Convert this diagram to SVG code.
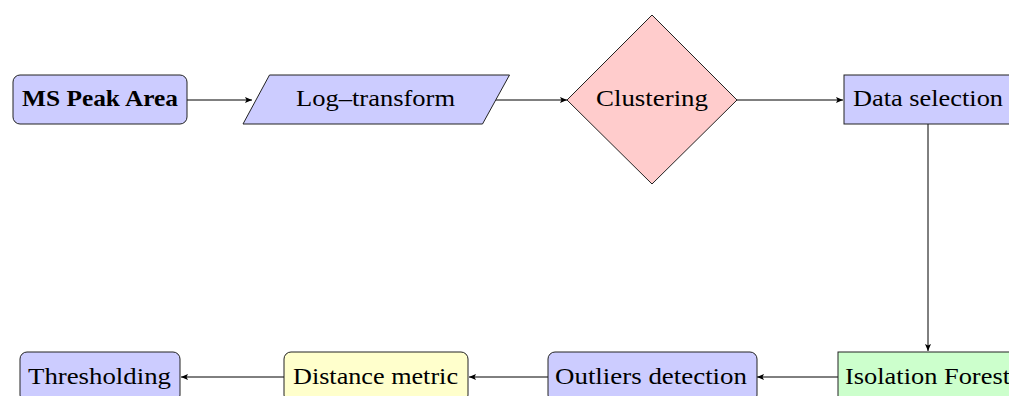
<svg xmlns="http://www.w3.org/2000/svg" width="1009" height="396" viewBox="0 0 1009 396">
<defs>
<marker id="ah" markerWidth="8" markerHeight="6" refX="7" refY="3" orient="auto" markerUnits="userSpaceOnUse">
<path d="M0,0 L7,3 L0,6 L1.5,3 Z" fill="#000"/>
</marker>
<style>
.n{stroke:#222;stroke-width:1}
.b{fill:#ccccff}
.r{fill:#ffcccc}
.y{fill:#ffffcc}
.g{fill:#ccffcc}
.t{font-family:"Liberation Serif","DejaVu Serif",serif;font-size:24px;fill:#000}
.bold{font-weight:bold}
.c{stroke:#000;stroke-width:1;fill:none;marker-end:url(#ah)}
</style>
</defs>
<rect width="1009" height="396" fill="#fff"/>
<g id="connectors">
<line class="c" x1="187" y1="100" x2="252" y2="100"/>
<line class="c" x1="496" y1="100" x2="567" y2="100"/>
<line class="c" x1="737" y1="100" x2="843" y2="100"/>
<line class="c" x1="928" y1="124" x2="928" y2="351"/>
<line class="c" x1="838" y1="377" x2="757" y2="377"/>
<line class="c" x1="548" y1="377" x2="469" y2="377"/>
<line class="c" x1="284" y1="377" x2="181" y2="377"/>
</g>
<g id="ms-peak-area">
<rect class="n b" x="13" y="75" width="174" height="49" rx="7"/>
<text class="t bold" x="22" y="106" textLength="156" lengthAdjust="spacingAndGlyphs">MS Peak Area</text>
</g>
<g id="log-transform">
<polygon class="n b" points="243,124 269.5,75 509.5,75 482.5,124"/>
<text class="t" x="296" y="106" textLength="159" lengthAdjust="spacingAndGlyphs">Log–transform</text>
</g>
<g id="clustering">
<polygon class="n r" points="652,15 737,100 652,184 567,100"/>
<text class="t" x="596" y="106" textLength="112" lengthAdjust="spacingAndGlyphs">Clustering</text>
</g>
<g id="data-selection">
<rect class="n b" x="844" y="75" width="175" height="49"/>
<text class="t" x="853" y="106" textLength="150" lengthAdjust="spacingAndGlyphs">Data selection</text>
</g>
<g id="isolation-forest">
<rect class="n g" x="838" y="352" width="185" height="50"/>
<text class="t" x="845" y="384" textLength="165" lengthAdjust="spacingAndGlyphs">Isolation Forest</text>
</g>
<g id="outliers-detection">
<rect class="n b" x="548" y="352" width="209" height="50" rx="7"/>
<text class="t" x="555" y="384" textLength="192" lengthAdjust="spacingAndGlyphs">Outliers detection</text>
</g>
<g id="distance-metric">
<rect class="n y" x="284" y="352" width="184" height="50" rx="7"/>
<text class="t" x="293" y="384" textLength="165" lengthAdjust="spacingAndGlyphs">Distance metric</text>
</g>
<g id="thresholding">
<rect class="n b" x="20" y="352" width="160" height="50" rx="7"/>
<text class="t" x="28" y="384" textLength="143" lengthAdjust="spacingAndGlyphs">Thresholding</text>
</g>
</svg>
